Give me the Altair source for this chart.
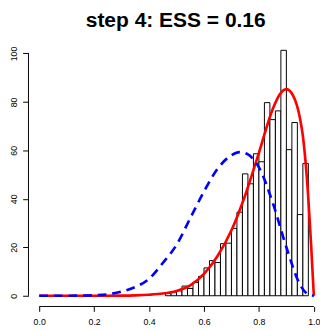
import altair as alt
import pandas as pd
import numpy as np

# ---- data ----
bin_width = 0.02
first_bin = 23  # index of first non-empty bin (bins of width 0.02 on [0,1])
counts = [1, 1.5, 2, 4, 3, 5.5, 8, 11.5, 14.5, 13.7, 21.5, 21.7, 27.8, 34.5,
          50.3, 46.2, 58.6, 55.3, 79.7, 72.7, 76.3, 101.3, 60.3, 71.5, 33.5, 54.6]

red_x = [0.0, 0.1, 0.2, 0.3, 0.35, 0.4, 0.45, 0.5, 0.55, 0.6, 0.65, 0.7, 0.75,
         0.8, 0.85, 0.875, 0.9, 0.925, 0.95, 0.96, 0.97, 0.98, 0.99, 1.0]
red_y = [0, 0, 0, 0.05, 0.15, 0.4, 0.9, 2, 4.3, 9, 16.5, 27, 41.5,
         59, 77, 83, 85.3, 82.5, 73, 66, 55, 40, 21, 0]

blue_x = [0.0, 0.1, 0.2, 0.25, 0.3, 0.35, 0.4, 0.45, 0.5, 0.55, 0.6, 0.65, 0.7,
          0.73, 0.76, 0.8, 0.85, 0.9, 0.95, 0.98, 1.0]
blue_y = [0, 0, 0.2, 0.6, 1.7, 3.6, 7.0, 13.5, 21, 32, 43, 52.5, 58,
          59.3, 58.3, 53, 38.5, 20, 4.5, 0.5, 0]

x_ticks = [0.0, 0.2, 0.4, 0.6, 0.8, 1.0]
y_ticks = [0, 20, 40, 60, 80, 100]
title_text = "step 4: ESS = 0.16"

# ---- tables ----
lefts = [round((first_bin + i) * bin_width, 4) for i in range(len(counts))]
hist_df = pd.DataFrame({"x0": lefts,
                        "x1": [round(l + bin_width, 4) for l in lefts],
                        "count": counts})
red_df = pd.DataFrame({"x": red_x, "y": red_y})
blue_df = pd.DataFrame({"x": blue_x, "y": blue_y})

W, H = 299, 273
x_scale = alt.Scale(domain=[-0.03905, 1.0224], nice=False, zero=False)
y_scale = alt.Scale(domain=[-4.43, 105.43], nice=False, zero=False)

FONT = "Liberation Sans"
x_axis = alt.Axis(values=x_ticks, format=".1f", domain=False, grid=False,
                  tickSize=5, tickColor="black", tickWidth=1,
                  labelFont=FONT, labelFontSize=9, labelColor="black",
                  labelPadding=7, labelFlush=False, labelOverlap=False, title=None)
y_axis = alt.Axis(values=y_ticks, domain=False, grid=False,
                  tickSize=6, tickColor="black", tickWidth=1,
                  labelAngle=-90, labelAlign="center", labelBaseline="bottom",
                  labelFont=FONT, labelFontSize=9, labelColor="black",
                  labelPadding=4, labelFlush=False, labelOverlap=False, title=None)

bars = alt.Chart(hist_df).mark_rect(fill="white", stroke="black", strokeWidth=1).encode(
    x=alt.X("x0:Q", scale=x_scale, axis=x_axis),
    x2="x1:Q",
    y=alt.Y("count:Q", scale=y_scale, axis=y_axis),
    y2=alt.datum(0),
)

red = alt.Chart(red_df).mark_line(color="#FF0000", strokeWidth=2.7, interpolate="monotone").encode(
    x=alt.X("x:Q", scale=x_scale, axis=x_axis),
    y=alt.Y("y:Q", scale=y_scale, axis=y_axis),
)

blue = alt.Chart(blue_df).mark_line(color="#0000FF", strokeWidth=2.7, strokeDash=[9, 6],
                                    interpolate="monotone").encode(
    x=alt.X("x:Q", scale=x_scale, axis=x_axis),
    y=alt.Y("y:Q", scale=y_scale, axis=y_axis),
)

xline = alt.Chart(pd.DataFrame({"a": [x_ticks[0]], "b": [x_ticks[-1]]})).mark_rule(
    color="black", strokeWidth=1).encode(
    x=alt.X("a:Q", scale=x_scale, axis=x_axis), x2="b:Q", y=alt.value(H))

yline = alt.Chart(pd.DataFrame({"a": [y_ticks[0]], "b": [y_ticks[-1]]})).mark_rule(
    color="black", strokeWidth=1).encode(
    y=alt.Y("a:Q", scale=y_scale, axis=y_axis), y2="b:Q", x=alt.value(0))

title = alt.Chart(pd.DataFrame({"t": [title_text]})).mark_text(
    font=FONT, fontSize=21.5, fontWeight="bold", color="black",
    align="center", baseline="alphabetic").encode(
    text="t:N", x=alt.value(W / 2 + 1.5), y=alt.value(-13.5))

chart = alt.layer(bars, red, blue, xline, yline, title).properties(
    width=W, height=H,
    padding={"left": 21, "top": 29, "right": 0, "bottom": 20},
    autosize=alt.AutoSizeParams(type="none"),
).configure_view(stroke=None)

chart.save("out.html", embed_options={"renderer": "svg", "actions": False})
